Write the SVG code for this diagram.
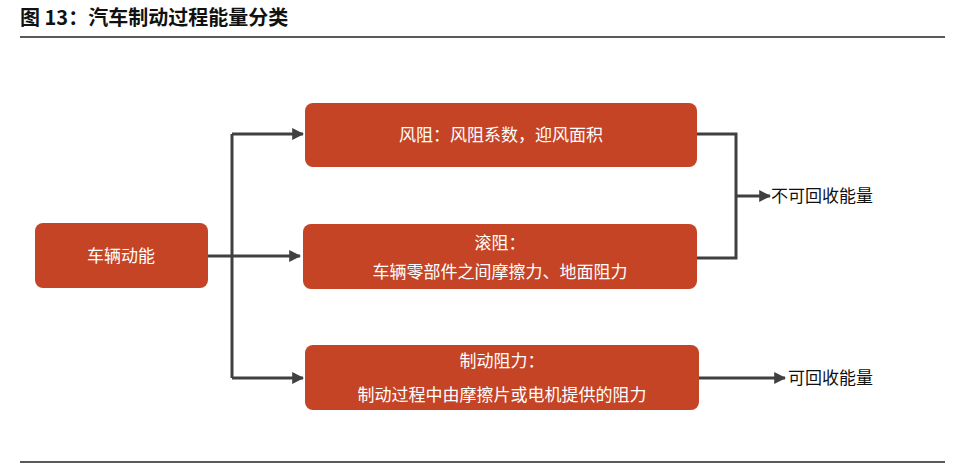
<svg xmlns="http://www.w3.org/2000/svg" width="961" height="464" viewBox="0 0 961 464">
<defs>
<style>
.box{fill:#C54426;}
.t{font-family:"Noto Sans CJK SC","Noto Sans",sans-serif;font-size:17px;fill:#fff;text-anchor:middle;}
.l{font-family:"Noto Sans CJK SC","Noto Sans",sans-serif;font-size:17px;fill:#111;}
.c{stroke:#404040;stroke-width:3;fill:none;}
</style>
<marker id="a" viewBox="0 0 10 10" refX="9" refY="5" markerWidth="4" markerHeight="4" orient="auto"><path d="M0,0L10,5L0,10z" fill="#404040"/></marker>
</defs>
<rect width="961" height="464" fill="#fff"/>
<text x="20" y="25" font-family="Noto Sans CJK SC,sans-serif" font-size="20" font-weight="bold" fill="#111">图 13：汽车制动过程能量分类</text>
<line x1="20" y1="37" x2="945" y2="37" stroke="#222" stroke-width="1.5"/>
<line x1="20" y1="462" x2="945" y2="462" stroke="#222" stroke-width="1.5"/>
<g id="connectors">
<path class="c" d="M208,256H300" marker-end="url(#a)"/>
<path class="c" d="M232,134V378"/>
<path class="c" d="M232,134H303" marker-end="url(#a)"/>
<path class="c" d="M232,378H303" marker-end="url(#a)"/>
<path class="c" d="M697,134H736V258H697"/>
<path class="c" d="M736,196H770" marker-end="url(#a)"/>
<path class="c" d="M699,378H785" marker-end="url(#a)"/>
</g>
<g id="n0"><rect class="box" x="35" y="223" width="173" height="65" rx="8"/><text class="t" x="121" y="262">车辆动能</text></g>
<g id="n1"><rect class="box" x="305" y="103" width="392" height="64" rx="8"/><text class="t" x="501" y="141">风阻：风阻系数，迎风面积</text></g>
<g id="n2"><rect class="box" x="303" y="224" width="394" height="65" rx="8"/><text class="t" x="500" y="249">滚阻：</text><text class="t" x="500" y="278">车辆零部件之间摩擦力、地面阻力</text></g>
<g id="n3"><rect class="box" x="305" y="345" width="394" height="65" rx="8"/><text class="t" x="502" y="367">制动阻力：</text><text class="t" x="502" y="401">制动过程中由摩擦片或电机提供的阻力</text></g>
<text class="l" x="771" y="202">不可回收能量</text>
<text class="l" x="788" y="384">可回收能量</text>
</svg>
